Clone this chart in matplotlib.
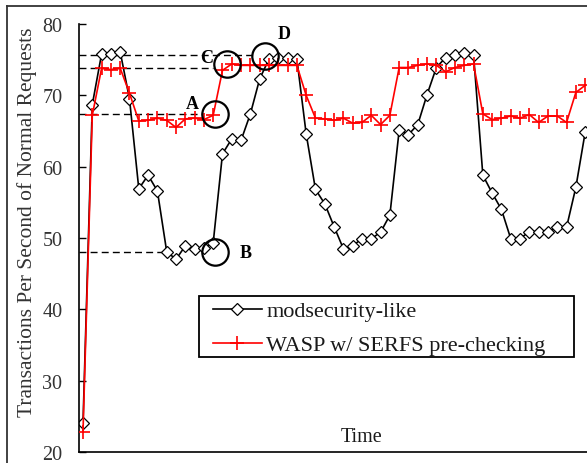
import numpy as np
import matplotlib.pyplot as plt
from matplotlib.lines import Line2D
from matplotlib.patches import Rectangle

plt.rcParams['font.family'] = ['Liberation Serif', 'DejaVu Serif']

# ---------------------------------------------------------------
# DATA
# ---------------------------------------------------------------
time_idx = np.arange(55)

modsec_tps = [
    24.0, 68.7, 75.8, 75.8, 76.1, 69.5, 56.9, 58.8, 56.6, 48.1,
    47.0, 48.9, 48.5, 48.6, 49.3, 61.8, 63.9, 63.7, 67.4, 72.3,
    75.1, 75.2, 75.3, 75.1, 64.6, 56.8, 54.8, 51.6, 48.5, 48.9,
    49.9, 49.9, 50.8, 53.2, 65.1, 64.5, 65.9, 70.1, 73.9, 75.3,
    75.6, 76.0, 75.7, 58.8, 56.3, 54.0, 49.9, 49.9, 50.9, 50.9,
    50.8, 51.5, 51.5, 57.1, 64.8,
]

wasp_tps = [
    22.8, 67.2, 73.8, 73.6, 73.8, 70.3, 66.4, 66.5, 66.8, 66.5,
    65.5, 66.7, 66.8, 66.6, 67.2, 73.5, 74.4, 74.2, 74.2, 74.2,
    74.2, 74.2, 74.2, 74.2, 70.0, 66.8, 66.7, 66.5, 66.8, 66.1,
    66.2, 67.2, 65.9, 67.2, 73.9, 73.9, 74.2, 74.4, 74.2, 73.3,
    73.9, 74.2, 74.4, 67.4, 66.6, 66.8, 67.1, 66.8, 67.3, 66.2,
    67.1, 67.1, 66.2, 70.4, 71.4,
]

series_names = ["modsecurity-like", "WASP w/ SERFS pre-checking"]
y_ticks = [20, 30, 40, 50, 60, 70, 80]

# reference levels (dashed) and where they stop
ref_levels = [75.6, 73.8, 67.4, 48.0]
ref_ends = [18.3, 14.0, 12.8, 9.0]

# circled points A-D
mark_names = ["A", "B", "C", "D"]
mark_x = [14.2, 14.2, 15.45, 19.6]
mark_y = [67.4, 48.0, 74.4, 75.5]
label_x = [11.8, 17.5, 13.3, 21.6]
label_y = [68.8, 47.9, 75.3, 78.6]

# ---------------------------------------------------------------
# PLOT
# ---------------------------------------------------------------
W, H = 587, 464
fig = plt.figure(figsize=(W / 100, H / 100), dpi=100)
ax = fig.add_axes([79 / W, 11 / H, (W - 79) / W, 428 / H])

x0 = -0.43
ax.set_xlim(x0, 54.2)
ax.set_ylim(20, 80)

for lvl, xe in zip(ref_levels, ref_ends):
    ax.plot([x0, xe], [lvl, lvl], color="black", lw=1.0,
            ls=(0, (5, 3)), zorder=1)

ax.plot(time_idx, modsec_tps, color="black", lw=1.2, marker="D", ms=6,
        mfc="white", mec="black", mew=0.9, label=series_names[0], zorder=2)
ax.plot(time_idx, wasp_tps, color="#ff0000", lw=1.2, marker="+", ms=10,
        mew=1.2, label=series_names[1], zorder=3)

ax.plot(mark_x, mark_y, "o", ms=19, mfc="none", mec="black", mew=1.6,
        zorder=4)
for name, lx, ly in zip(mark_names, label_x, label_y):
    ax.text(lx, ly, name, fontsize=13, fontweight="bold",
            ha="center", va="center")

ax.spines["top"].set_visible(False)
ax.spines["right"].set_visible(False)
ax.spines["left"].set_linewidth(1.2)
ax.spines["bottom"].set_linewidth(1.2)
ax.set_xticks([])
ax.set_yticks(y_ticks)
ax.tick_params(axis="y", direction="in", length=5, width=1, pad=12,
               labelsize=14.5, labelcolor="#333333")

# legend box drawn by hand, entries without frame
ax.add_patch(Rectangle((0.2362, 0.222), 0.738, 0.1425, transform=ax.transAxes,
                       fill=True, facecolor="white", edgecolor="black",
                       lw=1.3, zorder=5))
leg = ax.legend(loc="upper left", bbox_to_anchor=(0.2638, 0.353),
                fontsize=16, frameon=False, handlelength=2.2,
                handletextpad=0.2, borderpad=0, labelspacing=0.6,
                borderaxespad=0)
leg.set_zorder(6)
for t in leg.get_texts():
    t.set_color("#1a1a1a")

fig.text(362 / W, 1 - 438 / H, "Time", fontsize=14.5, color="#1a1a1a",
         ha="center", va="center")
fig.text(27 / W, 1 - 222 / H, "Transactions Per Second of Normal Requests",
         fontsize=15.5, color="#333333", rotation=90,
         ha="center", va="center")

# outer chart-area frame (left and top only, the rest is cropped)
fig.add_artist(Line2D([7 / W, 7 / W], [0, 1 - 7 / H], color="#333333",
                      lw=1.3, transform=fig.transFigure))
fig.add_artist(Line2D([7 / W, 1], [1 - 7 / H, 1 - 7 / H], color="#333333",
                      lw=1.3, transform=fig.transFigure))

fig.savefig("out.png", dpi=100)
